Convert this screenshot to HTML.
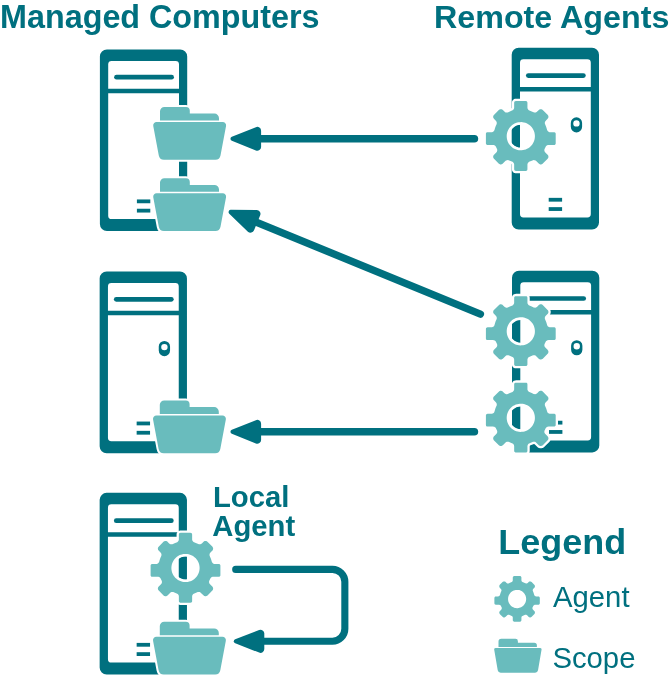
<!DOCTYPE html>
<html lang="en">
<head>
<meta charset="utf-8">
<title>Managed Computers and Remote Agents</title>
<style>
html,body{margin:0;padding:0;background:#fff;}
body{width:670px;height:679px;overflow:hidden;}
svg{display:block;will-change:transform;}
text{font-family:"Liberation Sans",Arial,Helvetica,sans-serif;fill:#00707f;}
.b{font-weight:bold;}
</style>
</head>
<body>
<svg width="670" height="679" viewBox="0 0 670 679">
<defs>
  <g id="pc">
    <path fill="#00707f" fill-rule="evenodd" d="M7,0 H80.3 A7,7 0 0 1 87.3,7 V174.7 A7,7 0 0 1 80.3,181.7 H7 A7,7 0 0 1 0,174.7 V7 A7,7 0 0 1 7,0 Z
      M11.7,11.5 A3.4,3.4 0 0 0 8.3,14.9 V39.3 H79.1 V14.9 A3.4,3.4 0 0 0 75.7,11.5 Z
      M8.3,43.8 V166.3 A3.4,3.4 0 0 0 11.7,169.7 H75.7 A3.4,3.4 0 0 0 79.1,166.3 V43.8 Z"/>
    <line x1="16.6" y1="27.8" x2="71.7" y2="27.8" stroke="#00707f" stroke-width="4.7" stroke-linecap="round"/>
    <rect x="37" y="150.05" width="13.4" height="3.8" fill="#00707f"/>
    <rect x="37" y="159.35" width="13.4" height="3.8" fill="#00707f"/>
    <path fill="#00707f" fill-rule="evenodd" d="M59.1,75.1 A5.65,5.65 0 0 1 70.4,75.1 V79 A5.65,5.65 0 0 1 59.1,79 Z M67.95,75.6 A3.2,3.2 0 1 0 61.55,75.6 A3.2,3.2 0 1 0 67.95,75.6 Z"/>
  </g>
  <g id="folder">
    <path d="M7.00,13.50 L7.00,4.40 A4.40,4.40 0 0 1 11.40,0.00 L33.00,0.00 A3.80,3.80 0 0 1 36.80,3.80 L36.80,6.70 L61.40,6.70 A4.60,4.60 0 0 1 66.00,11.30 L66.00,13.50 Z"/>
    <path d="M0.26,19.13 A3.40,3.40 0 0 1 3.60,15.10 L69.70,15.10 A3.40,3.40 0 0 1 73.04,19.13 L67.50,48.56 A5.20,5.20 0 0 1 62.39,52.80 L10.91,52.80 A5.20,5.20 0 0 1 5.80,48.56 Z"/>
  </g>
  <path id="gearp" fill-rule="evenodd" d="M-34.89,-2.40 -34.90,7.25 -34.81,7.81 -34.63,8.19 -34.35,8.50 -34.01,8.73 -33.40,8.89 -27.73,8.90 -27.10,8.96 -26.48,9.15 -25.92,9.44 -25.66,9.63 -25.42,9.85 -25.01,10.34 -23.91,12.53 -23.68,13.13 -23.56,13.76 -23.56,14.40 -23.69,15.02 -23.94,15.62 -24.29,16.15 -24.51,16.38 -27.00,18.90 -27.32,19.38 -27.47,19.71 -27.63,20.43 -27.60,21.15 -27.39,21.85 -27.00,22.47 -21.92,27.56 -21.29,28.02 -20.95,28.17 -20.45,28.30 -19.88,28.34 -19.36,28.27 -18.81,28.09 -18.49,27.91 -17.96,27.49 -15.22,24.77 -14.70,24.41 -13.82,24.09 -12.88,24.02 -12.26,24.12 -8.28,25.76 -7.77,26.13 -7.34,26.58 -7.00,27.11 -6.76,27.69 -6.63,28.62 -6.63,33.15 -6.60,33.51 -6.36,34.09 -6.08,34.40 -5.74,34.63 -5.34,34.77 -4.98,34.80 4.98,34.80 5.54,34.71 5.92,34.53 6.36,34.09 6.60,33.51 6.63,33.15 6.64,28.31 6.76,27.69 7.16,26.84 7.77,26.13 8.28,25.76 12.26,24.12 12.88,24.02 13.51,24.03 14.12,24.17 14.70,24.41 15.45,24.98 18.20,27.70 18.68,28.02 19.01,28.17 19.51,28.30 20.24,28.33 20.95,28.17 21.60,27.83 22.00,27.49 26.86,22.62 27.32,21.99 27.47,21.65 27.60,21.15 27.64,20.58 27.57,20.06 27.39,19.51 27.21,19.19 26.79,18.66 24.29,16.15 23.94,15.62 23.69,15.02 23.61,14.71 23.54,14.08 23.60,13.44 23.68,13.13 23.91,12.53 25.01,10.34 25.42,9.85 25.92,9.44 26.48,9.15 27.10,8.96 27.73,8.90 33.25,8.90 33.81,8.81 34.19,8.63 34.50,8.35 34.73,8.01 34.87,7.61 34.90,7.25 34.90,-2.25 34.87,-2.61 34.73,-3.01 34.50,-3.35 34.19,-3.63 33.61,-3.87 33.25,-3.90 29.43,-3.90 28.80,-3.96 28.20,-4.14 27.91,-4.27 27.38,-4.61 27.15,-4.82 26.74,-5.30 26.42,-5.84 25.41,-9.12 24.12,-12.26 24.02,-12.88 24.03,-13.51 24.17,-14.12 24.41,-14.70 24.98,-15.45 27.00,-17.50 27.32,-17.98 27.47,-18.31 27.60,-18.81 27.63,-19.54 27.47,-20.25 27.13,-20.90 26.79,-21.30 21.92,-26.16 21.29,-26.62 20.60,-26.87 20.09,-26.94 19.51,-26.90 19.16,-26.82 18.68,-26.62 18.04,-26.16 16.38,-24.51 15.89,-24.10 15.33,-23.80 15.02,-23.69 14.40,-23.56 14.08,-23.54 13.44,-23.60 12.82,-23.78 10.92,-24.69 8.56,-25.62 8.02,-25.93 7.54,-26.34 7.16,-26.84 6.87,-27.40 6.69,-28.00 6.63,-28.62 6.63,-33.40 6.54,-33.96 6.36,-34.34 6.08,-34.65 5.74,-34.88 5.34,-35.02 4.98,-35.05 -4.98,-35.05 -5.54,-34.96 -5.92,-34.78 -6.36,-34.34 -6.60,-33.76 -6.63,-33.40 -6.64,-28.31 -6.76,-27.69 -7.16,-26.84 -7.77,-26.13 -8.28,-25.76 -10.92,-24.69 -12.53,-23.91 -13.13,-23.68 -13.76,-23.56 -14.40,-23.56 -15.02,-23.69 -15.62,-23.94 -15.89,-24.10 -16.38,-24.51 -18.20,-26.30 -18.68,-26.62 -19.16,-26.82 -19.73,-26.93 -20.45,-26.90 -21.15,-26.69 -21.77,-26.30 -26.86,-21.22 -27.32,-20.59 -27.57,-19.90 -27.63,-19.54 -27.63,-19.03 -27.52,-18.46 -27.32,-17.98 -26.86,-17.34 -24.98,-15.45 -24.58,-14.97 -24.17,-14.12 -24.01,-13.19 -24.06,-12.57 -24.22,-11.96 -24.94,-10.35 -25.41,-9.12 -25.84,-7.82 -26.31,-6.13 -26.57,-5.56 -26.93,-5.05 -27.15,-4.82 -27.64,-4.43 -28.20,-4.14 -28.80,-3.96 -29.43,-3.90 -33.25,-3.90 -33.81,-3.81 -34.35,-3.50 -34.63,-3.19 -34.81,-2.81Z M14.09,0.56 13.98,1.94 13.73,3.30 13.35,4.63 12.84,5.92 12.21,7.15 11.46,8.31 10.60,9.40 9.64,10.39 8.58,11.29 7.45,12.07 6.24,12.75 4.97,13.30 3.65,13.72 2.30,14.01 0.92,14.17 -0.46,14.19 -1.84,14.08 -3.20,13.83 -4.53,13.45 -5.82,12.94 -7.05,12.31 -8.21,11.56 -9.30,10.70 -10.29,9.74 -11.19,8.68 -11.97,7.55 -12.65,6.34 -13.20,5.07 -13.62,3.75 -13.91,2.40 -14.07,1.02 -14.09,-0.36 -13.98,-1.74 -13.73,-3.10 -13.35,-4.43 -12.84,-5.72 -12.21,-6.95 -11.46,-8.11 -10.60,-9.20 -9.64,-10.19 -8.58,-11.09 -7.45,-11.87 -6.24,-12.55 -4.97,-13.10 -3.65,-13.52 -2.30,-13.81 -0.92,-13.97 0.46,-13.99 1.84,-13.88 3.20,-13.63 4.53,-13.25 5.82,-12.74 7.05,-12.11 8.21,-11.36 9.30,-10.50 10.29,-9.54 11.19,-8.48 11.97,-7.35 12.65,-6.14 13.20,-4.87 13.62,-3.55 13.91,-2.20 14.07,-0.82Z"/>
  <g id="gear">
    <use href="#gearp" fill="#fff" stroke="#fff" stroke-width="4.6" stroke-linejoin="round"/>
    <circle cx="0" cy="0.1" r="12.8" fill="none" stroke="#fff" stroke-width="2.8"/>
    <use href="#gearp" fill="#69bcbd"/>
  </g>
  <g id="folderh">
    <use href="#folder" fill="#fff" stroke="#fff" stroke-width="4" stroke-linejoin="round"/>
    <use href="#folder" fill="#69bcbd"/>
  </g>
</defs>
<rect width="670" height="679" fill="#fff"/>

<text class="b" x="0.1" y="27.5" font-size="32.3">Managed Computers</text>
<text class="b" x="434" y="27.5" font-size="32.25">Remote Agents</text>

<!-- managed computers -->
<use href="#pc" x="99.9" y="49.4"/>
<use href="#pc" x="99.65" y="271.5"/>
<use href="#pc" x="99.65" y="492.85"/>
<!-- remote agents -->
<use href="#pc" x="511.7" y="47.8"/>
<use href="#pc" x="512.0" y="270.7"/>

<!-- folders -->
<use href="#folderh" x="153" y="106.9"/>
<use href="#folderh" x="153" y="178.2"/>
<use href="#folderh" x="152.8" y="400.4"/>
<use href="#folderh" x="152.8" y="621.7"/>

<!-- gears -->
<use href="#gear" x="520.8" y="136.1"/>
<use href="#gear" x="520.8" y="331.2"/>
<use href="#gear" x="520.8" y="417.7"/>
<use href="#gear" x="185.5" y="567.9"/>

<!-- arrows -->
<g stroke="#00707f" stroke-width="7.6" stroke-linecap="round" fill="none">
  <line x1="250" y1="138.8" x2="474.4" y2="138.8"/>
  <line stroke-width="7.4" x1="248.43" y1="218.88" x2="480.4" y2="314.2"/>
  <line x1="250" y1="431.8" x2="474.4" y2="431.8"/>
  <path stroke-width="7.1" d="M235.7,569.4 H332.45 A12.4,12.4 0 0 1 344.85,581.8 V628.8 A12.4,12.4 0 0 1 332.45,641.2 H255"/>
</g>
<g fill="#00707f">
  <path d="M231.83,140.84 A2.20,2.20 0 0 1 231.83,136.76 L255.89,127.17 A3.80,3.80 0 0 1 261.10,130.70 L261.10,146.90 A3.80,3.80 0 0 1 255.89,150.43 Z"/>
  <path d="M229.27,213.64 A2.20,2.20 0 0 1 230.82,209.85 L256.72,210.11 A3.80,3.80 0 0 1 260.20,215.35 L254.06,230.33 A3.80,3.80 0 0 1 247.91,231.63 Z"/>
  <path d="M231.83,433.84 A2.20,2.20 0 0 1 231.83,429.76 L255.89,420.17 A3.80,3.80 0 0 1 261.10,423.70 L261.10,439.90 A3.80,3.80 0 0 1 255.89,443.43 Z"/>
  <path d="M235.21,643.35 A2.20,2.20 0 0 1 235.21,639.25 L259.13,630.00 A3.80,3.80 0 0 1 264.30,633.54 L264.30,649.06 A3.80,3.80 0 0 1 259.13,652.60 Z"/>
</g>

<!-- labels -->
<text class="b" transform="translate(212.9,507) scale(0.973,1)" font-size="30.1">Local</text>
<text class="b" transform="translate(212.3,535.9) scale(0.973,1)" font-size="30.1">Agent</text>
<text class="b" x="498.3" y="553.7" font-size="35.95">Legend</text>
<text transform="translate(553,606.9) scale(0.973,1)" font-size="30.1">Agent</text>
<text transform="translate(552.4,667.9) scale(0.973,1)" font-size="30.1">Scope</text>

<!-- legend icons -->
<path fill="#69bcbd" fill-rule="evenodd" transform="translate(517.1,598.95)" d="M-17.14,-3.99 -17.41,-3.45 -17.67,-3.15 -18.15,-2.80 -18.52,-2.65 -19.11,-2.56 -21.18,-2.55 -21.53,-2.48 -21.81,-2.36 -22.17,-2.11 -22.46,-1.77 -22.64,-1.36 -22.72,-0.82 -22.71,4.29 -22.61,4.73 -22.33,5.23 -22.11,5.45 -21.81,5.65 -21.32,5.82 -17.81,5.86 -17.41,5.94 -17.04,6.09 -16.70,6.32 -16.29,6.76 -15.40,8.65 -15.32,9.06 -15.32,9.46 -15.40,9.86 -15.56,10.24 -15.92,10.73 -17.33,12.18 -17.69,12.80 -17.82,13.37 -17.82,13.81 -17.74,14.23 -17.57,14.64 -17.16,15.19 -14.55,17.83 -14.05,18.19 -13.36,18.43 -12.65,18.43 -12.23,18.31 -11.85,18.12 -11.42,17.78 -9.88,16.24 -9.55,16.02 -8.99,15.81 -8.40,15.77 -8.01,15.83 -5.36,16.94 -5.04,17.17 -4.76,17.46 -4.55,17.79 -4.35,18.36 -4.32,18.76 -4.31,21.19 -4.21,21.74 -4.00,22.14 -3.77,22.41 -3.41,22.67 -2.99,22.82 -2.59,22.86 2.66,22.86 3.13,22.78 3.53,22.60 3.77,22.41 4.00,22.14 4.16,21.87 4.27,21.53 4.32,21.12 4.33,18.56 4.40,18.17 4.65,17.62 4.89,17.31 5.36,16.94 8.01,15.83 8.40,15.77 8.80,15.78 9.19,15.86 9.55,16.02 10.03,16.38 11.61,17.95 12.23,18.31 12.79,18.45 13.23,18.45 13.79,18.31 14.30,18.04 14.60,17.78 17.33,15.00 17.64,14.51 17.80,13.95 17.83,13.52 17.77,13.08 17.50,12.41 17.16,11.98 15.79,10.58 15.56,10.24 15.35,9.67 15.31,9.26 15.40,8.65 16.29,6.76 16.55,6.45 16.87,6.19 17.22,6.00 17.61,5.89 18.01,5.85 21.06,5.85 21.61,5.74 22.00,5.53 22.27,5.30 22.52,4.93 22.68,4.51 22.72,4.10 22.72,-0.82 22.68,-1.23 22.52,-1.65 22.33,-1.95 22.11,-2.16 21.81,-2.36 21.53,-2.48 21.06,-2.56 19.11,-2.56 18.71,-2.60 18.15,-2.80 17.67,-3.15 17.41,-3.45 17.21,-3.80 16.55,-5.99 15.69,-8.09 15.62,-8.48 15.63,-8.88 15.72,-9.27 15.87,-9.64 16.23,-10.12 17.33,-11.26 17.57,-11.61 17.74,-12.03 17.82,-12.45 17.80,-13.03 17.64,-13.59 17.42,-13.97 14.55,-16.91 14.05,-17.27 13.51,-17.48 12.79,-17.53 12.10,-17.34 11.61,-17.03 10.32,-15.81 9.96,-15.62 9.38,-15.46 8.97,-15.46 8.38,-15.60 7.11,-16.22 5.36,-16.94 5.04,-17.17 4.76,-17.46 4.55,-17.79 4.35,-18.36 4.32,-18.76 4.31,-21.35 4.21,-21.91 4.00,-22.30 3.77,-22.57 3.41,-22.83 2.99,-22.98 2.59,-23.03 -2.66,-23.03 -3.13,-22.95 -3.53,-22.76 -3.77,-22.57 -4.00,-22.30 -4.16,-22.04 -4.27,-21.69 -4.32,-21.29 -4.33,-18.56 -4.47,-17.98 -4.65,-17.62 -4.89,-17.31 -5.36,-16.94 -7.11,-16.22 -8.58,-15.54 -8.97,-15.46 -9.38,-15.46 -9.77,-15.55 -10.15,-15.70 -10.48,-15.93 -11.72,-17.12 -12.10,-17.34 -12.50,-17.48 -13.08,-17.54 -13.65,-17.44 -14.17,-17.20 -14.55,-16.91 -17.33,-14.08 -17.64,-13.59 -17.77,-13.18 -17.82,-12.45 -17.64,-11.75 -17.33,-11.26 -15.97,-9.81 -15.72,-9.27 -15.62,-8.68 -15.65,-8.28 -15.75,-7.89 -16.55,-5.99Z M9.04,0.36 8.97,1.26 8.81,2.14 8.57,3.00 8.24,3.83 7.84,4.63 7.36,5.39 6.80,6.09 6.19,6.73 5.51,7.31 4.78,7.82 4.00,8.26 3.19,8.61 2.34,8.89 1.47,9.08 0.59,9.18 -0.30,9.19 -1.18,9.12 -2.05,8.96 -2.91,8.71 -3.73,8.38 -4.52,7.97 -5.27,7.49 -5.97,6.93 -6.60,6.31 -7.18,5.63 -7.68,4.89 -8.12,4.10 -8.47,3.28 -8.74,2.43 -8.93,1.55 -9.03,0.66 -9.04,-0.23 -8.97,-1.13 -8.81,-2.01 -8.57,-2.87 -8.24,-3.70 -7.84,-4.50 -7.36,-5.25 -6.80,-5.96 -6.19,-6.60 -5.51,-7.18 -4.78,-7.69 -4.00,-8.12 -3.19,-8.48 -2.34,-8.76 -1.47,-8.94 -0.59,-9.05 0.30,-9.06 1.18,-8.99 2.05,-8.83 2.91,-8.58 3.73,-8.25 4.52,-7.84 5.27,-7.36 5.97,-6.80 6.60,-6.18 7.18,-5.49 7.68,-4.76 8.12,-3.97 8.47,-3.15 8.74,-2.30 8.93,-1.42 9.03,-0.53Z"/>
<path fill="#69bcbd" d="M498.50,646.90 L498.50,641.55 A2.80,2.80 0 0 1 501.30,638.75 L515.50,638.75 A2.40,2.40 0 0 1 517.90,641.15 L517.90,642.80 L534.30,642.80 A2.60,2.60 0 0 1 536.90,645.40 L536.90,646.90 Z"/>
<path fill="#69bcbd" d="M494.22,649.87 A1.60,1.60 0 0 1 495.80,648.00 L539.95,648.00 A1.60,1.60 0 0 1 541.53,649.87 L538.03,670.21 A3.00,3.00 0 0 1 535.07,672.70 L500.68,672.70 A3.00,3.00 0 0 1 497.72,670.21 Z"/>
</svg>
</body>
</html>
